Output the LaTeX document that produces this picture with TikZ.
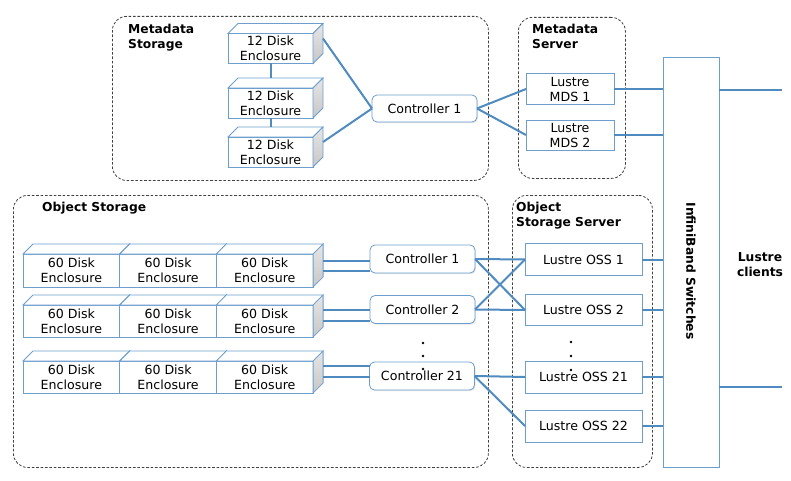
\documentclass[tikz,border=0pt]{standalone}
\usepackage{fontspec}
\setmainfont{DejaVu Sans}
\usetikzlibrary{shadows}
\definecolor{linkblue}{RGB}{79,139,190}
\definecolor{edgeblue}{RGB}{110,158,205}
\newcommand{\dep}{10}
\newcommand{\diskfaces}[1]{%
  \draw[face, fill=white] (#1.north west) -- ++(\dep,-\dep) -- ([xshift=\dep pt,yshift=\dep pt]#1.north east) -- (#1.north east) -- cycle;
  \draw[face, top color=black!10, bottom color=black!22] (#1.north east) -- ++(\dep,-\dep) -- ([xshift=\dep pt,yshift=\dep pt]#1.south east) -- (#1.south east) -- cycle;}

\begin{document}
\begin{tikzpicture}[x=1pt, y=-1pt, font=\fontsize{12.6}{15}\selectfont,
    title/.style={font=\fontsize{12.3}{15}\selectfont\bfseries},
    group/.style={draw=black!75, line width=0.8pt, dash pattern=on 2.6pt off 1.8pt, rounded corners=14pt, anchor=north west, inner sep=0pt},
    grouplabel/.style={title, anchor=north west, align=left, inner sep=0pt},
    encl/.style={draw=edgeblue, fill=white, line width=0.8pt, outer sep=0pt, inner sep=0pt, align=center},
    face/.style={draw=edgeblue, line width=0.8pt},
    ctrl/.style={draw=edgeblue, fill=white, line width=0.8pt, rounded corners=5pt, minimum width=105pt, minimum height=28pt, inner sep=0pt, outer sep=0pt, drop shadow={opacity=0.2, shadow xshift=1pt, shadow yshift=-1.2pt}},
    srv/.style={draw=edgeblue, fill=white, line width=0.8pt, minimum width=117pt, minimum height=32pt, inner sep=0pt, outer sep=0pt, align=center},
    link/.style={draw=linkblue, line width=2pt}]
    \useasboundingbox (0,0) rectangle (791,481);

    % Groups
    \node[group, minimum width=376pt, minimum height=164pt] (mstore) at (112,16) {};
    \node[group, minimum width=107pt, minimum height=161pt] (mserv) at (518,17) {};
    \node[group, minimum width=475pt, minimum height=272pt] (ostore) at (13,195) {};
    \node[group, minimum width=140pt, minimum height=272pt] (oserv) at (512,195) {};

    \node[grouplabel] (mstorelabel) at (128,24) {Metadata\\Storage};
    \node[grouplabel] (mservlabel) at (532,24) {Metadata\\Server};
    \node[grouplabel] (ostorelabel) at (42,202) {Object Storage};
    \node[grouplabel] (oservlabel) at (516,202) {Object\\Storage Server};

    % Metadata storage
    \node[encl, minimum width=85pt, minimum height=30pt] (md1) at (270.5,48.5) {12 Disk\\Enclosure};
    \diskfaces{md1}
    \node[encl, minimum width=85pt, minimum height=30pt] (md2) at (270.5,103) {12 Disk\\Enclosure};
    \diskfaces{md2}
    \node[encl, minimum width=85pt, minimum height=30pt] (md3) at (270.5,152) {12 Disk\\Enclosure};
    \diskfaces{md3}
    \draw[link] (md1.south) -- ([yshift=\dep pt]md2.north);
    \draw[link] (md2.south) -- ([yshift=\dep pt]md3.north);

    \node[ctrl, minimum height=27pt] (mctrl) at (424.5,108.5) {Controller 1};
    \draw[link] ([xshift=\dep pt,yshift=\dep pt]md1.east) -- (mctrl.west);
    \draw[link] ([xshift=\dep pt,yshift=\dep pt]md3.east) -- (mctrl.west);

    % Metadata server
    \node[srv, minimum width=88pt, minimum height=31pt] (mds1) at (570,89) {Lustre\\MDS 1};
    \node[srv, minimum width=88pt, minimum height=30pt] (mds2) at (570,135) {Lustre\\MDS 2};
    \draw[link] (mctrl.east) -- (mds1.west);
    \draw[link] (mctrl.east) -- (mds2.west);

    % Switches and clients
    \node[srv, minimum width=56pt, minimum height=410pt] (ib) at (691,262) {};
    \node[title, rotate=-90] (ibtext) at (691,271) {InfiniBand Switches};
    \draw[link] (mds1.east) -- (mds1.east -| ib.west);
    \draw[link] (mds2.east) -- (mds2.east -| ib.west);
    \coordinate (cl1) at (782,90);
    \coordinate (cl2) at (782,387);
    \draw[link] (cl1 -| ib.east) -- (cl1);
    \draw[link] (cl2 -| ib.east) -- (cl2);
    \node[title, align=center, anchor=north, inner sep=0pt] (clients) at (760,252) {Lustre\\clients};

    % First row
    \node[encl, minimum width=96.7pt, minimum height=33pt] (od11) at (71.35,270.5) {60 Disk\\Enclosure};
    \diskfaces{od11}
    \node[encl, minimum width=96.7pt, minimum height=33pt] (od12) at (168.05,270.5) {60 Disk\\Enclosure};
    \diskfaces{od12}
    \node[encl, minimum width=96.7pt, minimum height=33pt] (od13) at (264.75,270.5) {60 Disk\\Enclosure};
    \diskfaces{od13}

    % Second row
    \node[encl, minimum width=96.7pt, minimum height=32pt] (od21) at (71.35,321) {60 Disk\\Enclosure};
    \diskfaces{od21}
    \node[encl, minimum width=96.7pt, minimum height=32pt] (od22) at (168.05,321) {60 Disk\\Enclosure};
    \diskfaces{od22}
    \node[encl, minimum width=96.7pt, minimum height=32pt] (od23) at (264.75,321) {60 Disk\\Enclosure};
    \diskfaces{od23}

    % Third row
    \node[encl, minimum width=96.7pt, minimum height=32pt] (od31) at (71.35,377) {60 Disk\\Enclosure};
    \diskfaces{od31}
    \node[encl, minimum width=96.7pt, minimum height=32pt] (od32) at (168.05,377) {60 Disk\\Enclosure};
    \diskfaces{od32}
    \node[encl, minimum width=96.7pt, minimum height=32pt] (od33) at (264.75,377) {60 Disk\\Enclosure};
    \diskfaces{od33}

    % Controllers
    \node[ctrl] (oc1) at (422.5,259) {Controller 1};
    \node[ctrl] (oc2) at (422.5,309.5) {Controller 2};
    \node[ctrl] (oc21) at (422,376) {Controller 21};
    \fill (423,343) circle (1.3);
    \fill (423,356) circle (1.3);
    \fill (423,369) circle (1.3);

    \draw[link] ([xshift=\dep pt]od13.east) -- (od13.east -| oc1.west);
    \draw[link] ([xshift=\dep pt,yshift=\dep pt]od13.east) -- ([yshift=\dep pt]od13.east -| oc1.west);
    \draw[link] ([xshift=\dep pt]od23.east) -- (od23.east -| oc2.west);
    \draw[link] ([xshift=\dep pt,yshift=11pt]od23.east) -- ([yshift=11pt]od23.east -| oc2.west);
    \draw[link] ([xshift=\dep pt]od33.east) -- (od33.east -| oc21.west);
    \draw[link] ([xshift=\dep pt,yshift=11pt]od33.east) -- ([yshift=11pt]od33.east -| oc21.west);

    % Object storage servers
    \node[srv] (oss1) at (583.5,259.5) {Lustre OSS 1};
    \node[srv, minimum height=31pt] (oss2) at (583.5,310) {Lustre OSS 2};
    \node[srv] (oss21) at (583.5,377) {Lustre OSS 21};
    \node[srv] (oss22) at (583.5,426) {Lustre OSS 22};
    \fill (571,342) circle (1.3);
    \fill (571,356) circle (1.3);
    \fill (571,370) circle (1.3);

    \draw[link] (oc1.east) -- (oss1.west);
    \draw[link] (oc1.east) -- (oss2.west);
    \draw[link] (oc2.east) -- (oss1.west);
    \draw[link] (oc2.east) -- (oss2.west);
    \draw[link] (oc21.east) -- (oss21.west);
    \draw[link] (oc21.east) -- (oss22.west);

    \draw[link] (oss1.east) -- (oss1.east -| ib.west);
    \draw[link] (oss2.east) -- (oss2.east -| ib.west);
    \draw[link] (oss21.east) -- (oss21.east -| ib.west);
    \draw[link] (oss22.east) -- (oss22.east -| ib.west);

\end{tikzpicture}
\end{document}
